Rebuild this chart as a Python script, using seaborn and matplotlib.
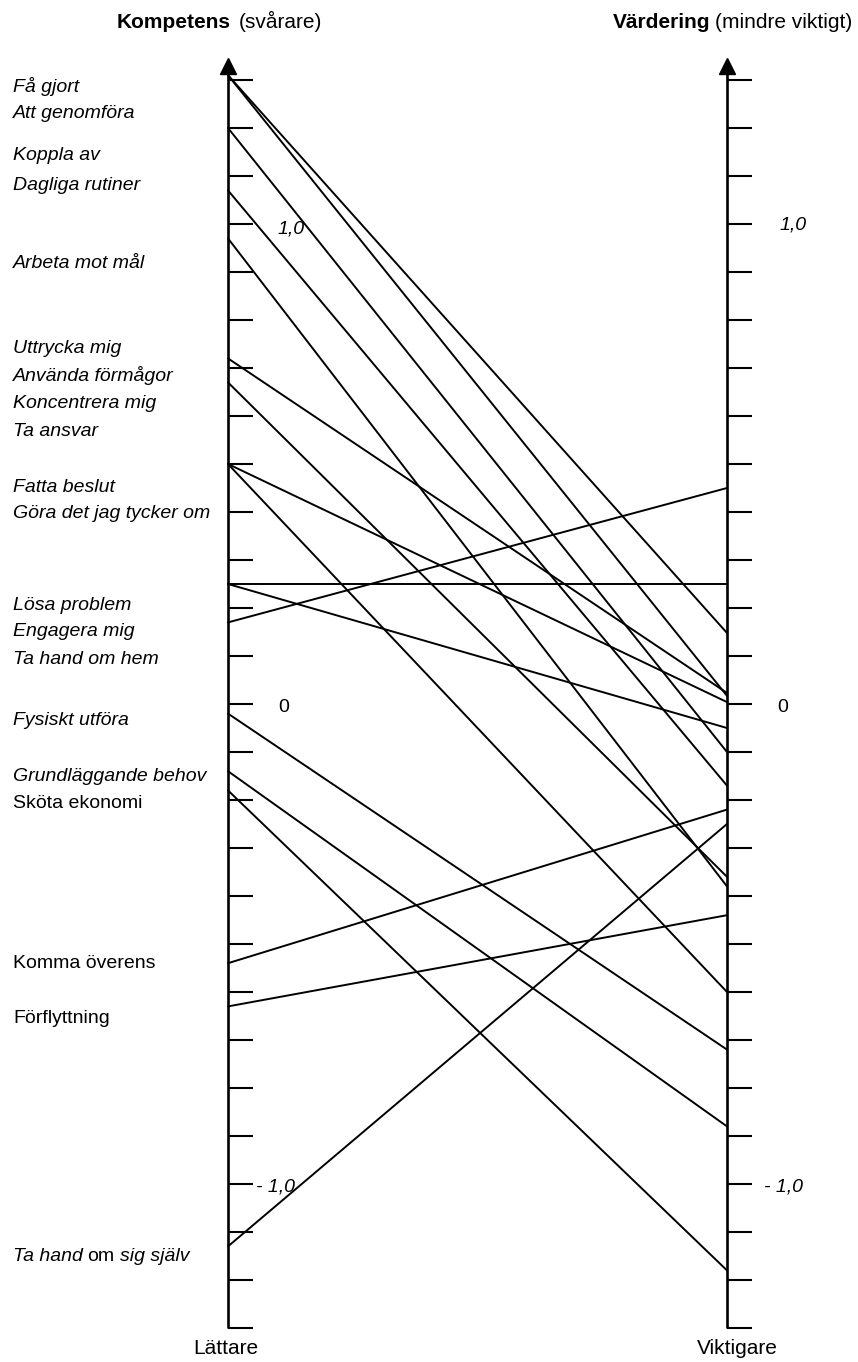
import numpy as np
import pandas as pd
import matplotlib
matplotlib.use("Agg")
import matplotlib.pyplot as plt
import seaborn as sns

kompetens = [1.31, 1.31, 1.20, 1.07, 0.97, 0.72, 0.67, 0.50, 0.50,
             0.25, 0.25, 0.17, -0.02, -0.14, -0.18, -0.54, -0.63, -1.13]
vardering = [0.148, 0.017, -0.10, -0.17, -0.38, 0.023, -0.36, 0.004, -0.60,
             0.25, -0.05, 0.45, -0.72, -0.88, -1.18, -0.22, -0.44, -0.25]

item_labels = ["Få gjort", "Att genomföra", "Koppla av", "Dagliga rutiner",
               "Arbeta mot mål", "Uttrycka mig", "Använda förmågor",
               "Koncentrera mig", "Ta ansvar", "Fatta beslut",
               "Göra det jag tycker om", "Lösa problem", "Engagera mig",
               "Ta hand om hem", "Fysiskt utföra", "Grundläggande behov",
               "Sköta ekonomi", "Komma överens", "Förflyttning"]
label_italic = [True] * 16 + [False] * 3
tick_values = np.round(np.arange(-1.3, 1.31, 0.1), 1)

# layout (pixels of the 858x1362 figure)
LEFT_X, RIGHT_X = 228, 727
label_rows = [92, 118, 160, 190, 268, 353, 381, 408, 436, 492, 518,
              610, 636, 664, 725, 781, 808, 968, 1023]


def row(y):
    # pixel row -> scale value (0 at row 704, 480 px per unit)
    return (704 - y) / 480


sns.set_theme(style="white")
plt.rcParams["font.family"] = ["Liberation Sans", "DejaVu Sans"]
plt.rcParams["text.color"] = "black"

fig = plt.figure(figsize=(8.58, 13.62), dpi=100)
ax = fig.add_axes([0, 0, 1, 1])

n = len(kompetens)
df = pd.DataFrame({
    "line": list(range(n)) * 2,
    "x": [LEFT_X] * n + [RIGHT_X] * n,
    "value": kompetens + vardering,
})
sns.lineplot(data=df, x="x", y="value", units="line", estimator=None,
             color="black", lw=1.4, legend=False, ax=ax)

# the two scales
for x0 in (LEFT_X, RIGHT_X):
    ax.plot([x0, x0], [tick_values[0], row(66)], color="black", lw=1.9,
            solid_capstyle="butt")
    ax.hlines(tick_values, x0, x0 + 25, color="black", lw=1.5)
    ax.plot([x0], [row(65.5)], marker="^", ms=11, color="black")

ax.set_xlim(0, 858)
ax.set_ylim(row(1362), row(0))
ax.axis("off")

# item labels on the left
for lab, y, it in zip(item_labels, label_rows, label_italic):
    ax.text(13, row(y), lab, fontsize=14, style="italic" if it else "normal",
            ha="left", va="baseline")
ax.text(13, row(1261), "Ta hand", fontsize=14, style="italic", va="baseline")
ax.text(87, row(1261), "om", fontsize=14, va="baseline")
ax.text(120, row(1261), "sig själv", fontsize=14, style="italic", va="baseline")

# titles
ax.text(231, row(28), "Kompetens", fontsize=15, fontweight="bold",
        ha="right", va="baseline")
ax.text(239, row(28), "(svårare)", fontsize=15, ha="left", va="baseline")
ax.text(710, row(28), "Värdering", fontsize=15, fontweight="bold",
        ha="right", va="baseline")
ax.text(715, row(28), "(mindre viktigt)", fontsize=15, ha="left", va="baseline")
ax.text(226, row(1354), "Lättare", fontsize=15, ha="center", va="baseline")
ax.text(737, row(1354), "Viktigare", fontsize=15, ha="center", va="baseline")

# scale numbers
ax.text(277, row(233), "1,0", fontsize=14, style="italic", va="baseline")
ax.text(780, row(230), "1,0", fontsize=14, style="italic", va="baseline")
ax.text(278, row(712), "0", fontsize=14, va="baseline")
ax.text(777, row(712), "0", fontsize=14, va="baseline")
ax.text(256, row(1192), "- 1,0", fontsize=14, style="italic", va="baseline")
ax.text(764, row(1192), "- 1,0", fontsize=14, style="italic", va="baseline")

fig.savefig("out.png", dpi=100)
